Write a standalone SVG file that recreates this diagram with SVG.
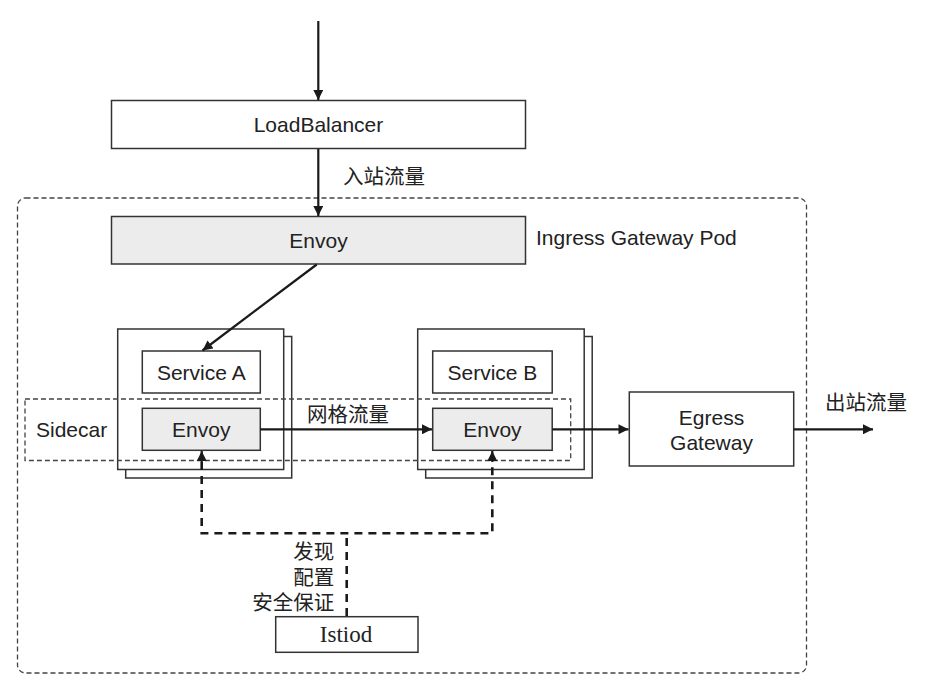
<svg xmlns="http://www.w3.org/2000/svg" width="932" height="695" viewBox="0 0 932 695">
<defs>
<style>
.box{fill:#fff;stroke:#333;stroke-width:1.5}
.grey{fill:#ececec;stroke:#333;stroke-width:1.5}
.t{font-family:"Liberation Sans",Arial,sans-serif;font-size:21px;fill:#222}
.c{text-anchor:middle}
.zh{font-family:"Noto Sans CJK SC","Liberation Sans",sans-serif;font-size:20.5px;fill:#222}
.serif{font-family:"Liberation Serif","Times New Roman",serif;font-size:23px;fill:#222}
.line{fill:none;stroke:#1a1a1a;stroke-width:2.2}
.dash{fill:none;stroke:#1a1a1a;stroke-width:2.6;stroke-dasharray:8 6}
.thin{fill:none;stroke:#444;stroke-width:1.3;stroke-dasharray:5 3}
</style>
<marker id="ah" viewBox="0 0 10 10" refX="10" refY="5" markerWidth="11" markerHeight="10" markerUnits="userSpaceOnUse" orient="auto">
<path d="M0,0 L10,5 L0,10 z" fill="#1a1a1a"/>
</marker>
</defs>
<rect width="932" height="695" fill="#fff"/>

<g id="mesh-boundary">
<rect class="thin" x="17.5" y="198" width="789" height="475" rx="8"/>
<text class="t" x="536" y="245">Ingress Gateway Pod</text>
</g>

<g id="loadbalancer">
<rect class="box" x="111.5" y="100.5" width="414" height="48"/>
<text class="t c" x="318.5" y="132">LoadBalancer</text>
</g>

<g id="ingress-envoy">
<rect class="grey" x="111.5" y="216.5" width="414" height="47.5"/>
<text class="t c" x="318.5" y="248">Envoy</text>
</g>

<g id="pod-a">
<rect class="box" x="125.7" y="336.5" width="166" height="141.5"/>
<rect class="box" x="117.7" y="329" width="166" height="140.5"/>
<rect class="box" x="142.3" y="351" width="118" height="42"/>
<text class="t c" x="201.3" y="379.5">Service A</text>
</g>

<g id="pod-b">
<rect class="box" x="425.7" y="336.5" width="166.5" height="141.5"/>
<rect class="box" x="417.7" y="329" width="166.5" height="140.5"/>
<rect class="box" x="432.7" y="351" width="119.5" height="42"/>
<text class="t c" x="492.4" y="379.5">Service B</text>
</g>

<g id="sidecar">
<rect class="thin" x="25" y="399" width="545.7" height="61.5"/>
<text class="t" x="36" y="437">Sidecar</text>
</g>

<g id="envoy-a">
<rect class="grey" x="142.3" y="408.3" width="118" height="42"/>
<text class="t c" x="201.3" y="437">Envoy</text>
</g>

<g id="envoy-b">
<rect class="grey" x="432.7" y="408.3" width="119.5" height="42"/>
<text class="t c" x="492.4" y="437">Envoy</text>
</g>

<g id="egress-gateway">
<rect class="box" x="629.3" y="392" width="164.4" height="74"/>
<text class="t c" x="711.5" y="425">Egress</text>
<text class="t c" x="711.5" y="450">Gateway</text>
</g>

<g id="istiod">
<rect class="box" x="275.7" y="616.7" width="142.3" height="35.6"/>
<text class="serif c" x="346" y="642">Istiod</text>
</g>

<g id="connectors">
<line class="line" x1="318.3" y1="21" x2="318.3" y2="100" marker-end="url(#ah)"/>
<line class="line" x1="318.3" y1="149" x2="318.3" y2="216" marker-end="url(#ah)"/>
<text class="zh" x="343" y="184">入站流量</text>
<line class="line" x1="316.7" y1="264.5" x2="202.5" y2="350.5" marker-end="url(#ah)"/>
<line class="line" x1="260.3" y1="429.3" x2="432" y2="429.3" marker-end="url(#ah)"/>
<text class="zh" x="307" y="422">网格流量</text>
<line class="line" x1="552.2" y1="429.3" x2="628.5" y2="429.3" marker-end="url(#ah)"/>
<line class="line" x1="793.7" y1="429.3" x2="873" y2="429.3" marker-end="url(#ah)"/>
<text class="zh" x="825" y="410">出站流量</text>
<path class="dash" d="M346.7,616 L346.7,533.3"/>
<path class="dash" d="M201.7,462 L201.7,533.3 L492.3,533.3 L492.3,462"/>
<line class="line" x1="201.7" y1="462" x2="201.7" y2="451" marker-end="url(#ah)"/>
<line class="line" x1="492.3" y1="462" x2="492.3" y2="451" marker-end="url(#ah)"/>
<text class="zh" x="334.3" y="559" text-anchor="end">发现</text>
<text class="zh" x="334.3" y="584.5" text-anchor="end">配置</text>
<text class="zh" x="334.3" y="610" text-anchor="end">安全保证</text>
</g>
</svg>
